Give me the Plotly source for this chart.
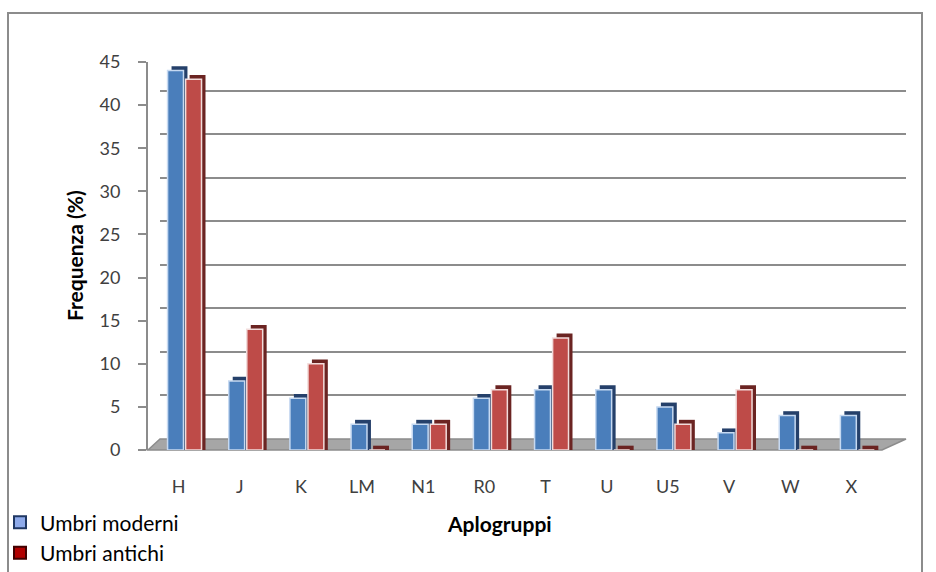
import plotly.graph_objects as go

categories = ["H", "J", "K", "LM", "N1", "R0", "T", "U", "U5", "V", "W", "X"]
umbri_moderni = [44, 8, 6, 3, 3, 6, 7, 7, 5, 2, 4, 4]
umbri_antichi = [43, 14, 10, 0, 3, 7, 13, 0, 3, 7, 0, 0]
y_ticks = [0, 5, 10, 15, 20, 25, 30, 35, 40, 45]

FONT = "Lato"
DEPTH = 0.5  # visual depth of the pseudo-3D side faces (data units)
W = 758.0
H = 403.0

fig = go.Figure()

# invisible trace for back-wall subplot
fig.add_trace(go.Scatter(x=[0], y=[0], mode="markers", marker=dict(opacity=0),
                         showlegend=False, hoverinfo="skip", xaxis="x", yaxis="y"))

def add_series(vals, offset, face, side, edge):
    fig.add_trace(go.Bar(x=categories, y=[v + DEPTH for v in vals], offset=offset + 0.065,
                         width=0.26, marker=dict(color=side, line=dict(width=0)),
                         showlegend=False, xaxis="x2", yaxis="y2", hoverinfo="skip"))
    fig.add_trace(go.Bar(x=categories, y=vals, offset=offset, width=0.26,
                         marker=dict(color=face, line=dict(color=edge, width=1.5)),
                         showlegend=False, xaxis="x2", yaxis="y2"))

add_series(umbri_moderni, -0.18, "#4a7ebb", "#25406a", "#c6d9f1")
add_series(umbri_antichi, 0.115, "#be4b48", "#6b2422", "#f2dcdb")

# legend entries
fig.add_trace(go.Bar(x=[None], y=[None], name="Umbri moderni",
                     marker=dict(color="#8eaaea", line=dict(color="#1f3763", width=2)),
                     xaxis="x2", yaxis="y2"))
fig.add_trace(go.Bar(x=[None], y=[None], name="Umbri antichi",
                     marker=dict(color="#b00000", line=dict(color="#400000", width=2)),
                     xaxis="x2", yaxis="y2"))

fig.update_layout(
    width=936, height=572,
    margin=dict(l=148, r=30, t=47, b=122, autoexpand=False),
    paper_bgcolor="white", plot_bgcolor="rgba(0,0,0,0)",
    barmode="overlay",
    font=dict(family=FONT, size=18, color="#404040"),
    # back wall
    xaxis=dict(domain=[12 / W, 1], range=[0, 1], showgrid=False, showticklabels=False,
               zeroline=False, showline=False, ticks=""),
    yaxis=dict(domain=[11 / H, 1], range=[0, 45], tickvals=y_ticks, showgrid=True,
               gridcolor="#8c8c8c", gridwidth=2, showticklabels=False, zeroline=False,
               showline=False, ticks=""),
    # front
    xaxis2=dict(domain=[0, 734 / W], range=[-0.5, 11.5], anchor="y2",
                showgrid=False, zeroline=False, showline=False,
                ticks="outside", ticklen=20, tickcolor="rgba(0,0,0,0)",
                tickfont=dict(size=18, color="#404040", family=FONT)),
    yaxis2=dict(domain=[0, 388 / H], range=[0, 45], anchor="x2", tickvals=y_ticks,
                showgrid=False, zeroline=False, showline=True, linecolor="#8c8c8c",
                linewidth=2, ticks="outside", ticklen=8, tickcolor="#8c8c8c", tickwidth=2,
                ticklabelstandoff=14,
                tickfont=dict(size=18, color="#404040", family=FONT)),
    legend=dict(xref="container", yref="container", x=0.0, y=0.122,
                xanchor="left", yanchor="top", font=dict(size=21, color="#000000", family=FONT),
                bgcolor="rgba(0,0,0,0)", tracegroupgap=0, itemwidth=30),
    showlegend=True,
)

# floor
fx = lambda px: (px - 148) / W
fy = lambda py: (450 - py) / H
fig.add_shape(type="path", xref="paper", yref="paper", layer="below",
              path=f"M {fx(148)} {fy(450)} L {fx(882)} {fy(450)} L {fx(906)} {fy(439)} L {fx(160)} {fy(439)} Z",
              fillcolor="#a6a6a6", line=dict(color="#8c8c8c", width=1.5))
# outer frame
fig.add_shape(type="rect", xref="paper", yref="paper", layer="below",
              x0=fx(8), x1=fx(922), y0=fy(600), y1=fy(13),
              line=dict(color="#8c8c8c", width=2), fillcolor="rgba(0,0,0,0)")

fig.add_annotation(text="<b>Frequenza (%)</b>", xref="paper", yref="paper",
                   x=fx(74), y=fy(256), textangle=-90, showarrow=False,
                   xanchor="center", yanchor="middle",
                   font=dict(size=21, color="#000000", family=FONT))
fig.add_annotation(text="<b>Aplogruppi</b>", xref="paper", yref="paper",
                   x=fx(499), y=fy(523), showarrow=False,
                   xanchor="center", yanchor="middle",
                   font=dict(size=21, color="#000000", family=FONT))

fig.write_html("out.html")
